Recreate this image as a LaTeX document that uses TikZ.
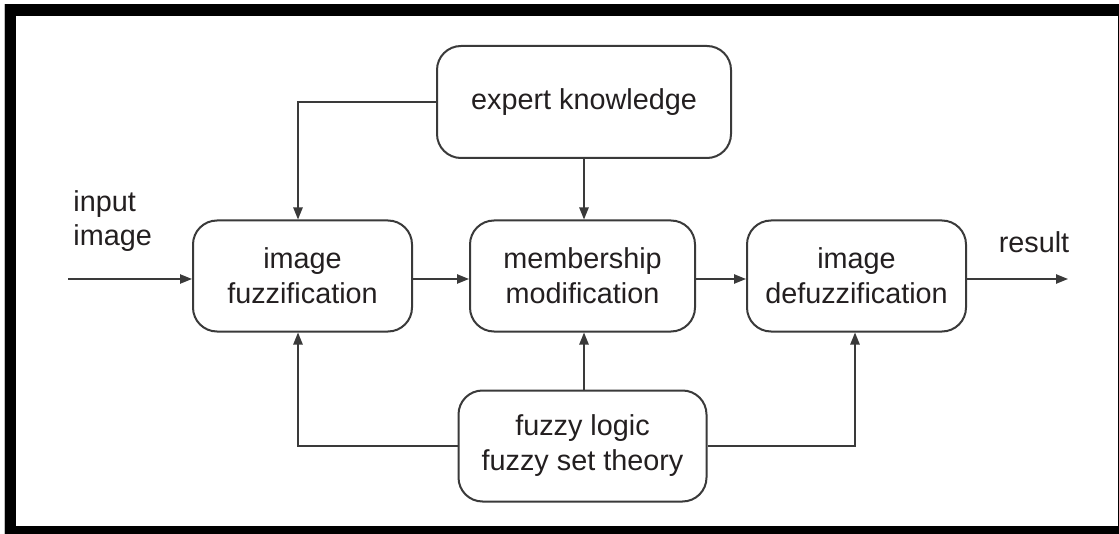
\documentclass[tikz,border=0pt]{standalone}
\usepackage{fontspec}
\setmainfont{Liberation Sans}
\usetikzlibrary{arrows.meta,calc}
\definecolor{ink}{HTML}{231F20}
\definecolor{wire}{HTML}{3A3A3A}
\tikzset{
  px/.style={x=0.5pt,y=-0.5pt},
  procbox/.style={draw=wire,line width=1pt,rounded corners=12pt,fill=white,
    text=ink,align=center,inner sep=0pt,
    font=\fontsize{14.4}{17.5}\selectfont},
  label/.style={text=ink,inner sep=0pt,font=\fontsize{14.4}{17}\selectfont},
  flow/.style={draw=wire,line width=0.9pt,-{Triangle[length=6pt,width=4.6pt]}},
  link/.style={draw=wire,line width=0.9pt}
}
\begin{document}
\begin{tikzpicture}[px]
  % page frame
  \useasboundingbox (0,0) rectangle (1119,534);
  \fill[white] (0,0) rectangle (1119,534);
  \fill[black] (5,4) rectangle (1119,534);
  \fill[white] (16,16) rectangle (1118,526);
  \fill[black!25] (4,4) rectangle (5,534);

  % blocks
  \node[procbox,minimum width=147pt,minimum height=56pt] (expert) at (584,102)
    {expert knowledge};
  \node[procbox,minimum width=109.5pt,minimum height=55.5pt] (fuzz) at (302.5,276)
    {image\\fuzzification};
  \node[procbox,minimum width=112.5pt,minimum height=55.5pt] (memb) at (582.5,276)
    {membership\\modification};
  \node[procbox,minimum width=109.5pt,minimum height=55.5pt] (defuzz) at (856.5,276)
    {image\\defuzzification};
  \node[procbox,minimum width=124pt,minimum height=55.5pt] (logic) at (582.5,446)
    {fuzzy logic\\fuzzy set theory};

  % free labels
  \node[label,align=left,anchor=north west] (inlbl) at (73,190) {input\\image};
  \node[label,anchor=south] (outlbl) at (1034,253) {result};

  % main signal path
  \coordinate (lane) at (0,279);
  \coordinate (src) at (68,279);
  \coordinate (dst) at (1068,279);
  \draw[flow] (src) -- (fuzz.west |- lane);
  \draw[flow] (fuzz.east |- lane) -- (memb.west |- lane);
  \draw[flow] (memb.east |- lane) -- (defuzz.west |- lane);
  \draw[flow] (defuzz.east |- lane) -- (dst);

  % knowledge feeds
  \coordinate (ekturn) at (298,102);
  \draw[flow] (expert.west) -- (ekturn) -- (ekturn |- fuzz.north);
  \draw[flow] (expert.south) -- (expert.south |- memb.north);

  % theory feeds
  \coordinate (ltturn) at (298,446);
  \coordinate (rtturn) at (855,446);
  \coordinate (upfeed) at (584,0);
  \draw[flow] (logic.west) -- (ltturn) -- (ltturn |- fuzz.south);
  \draw[flow] (upfeed |- logic.north) -- (upfeed |- memb.south);
  \draw[flow] (logic.east) -- (rtturn) -- (rtturn |- defuzz.south);
\end{tikzpicture}
\end{document}
